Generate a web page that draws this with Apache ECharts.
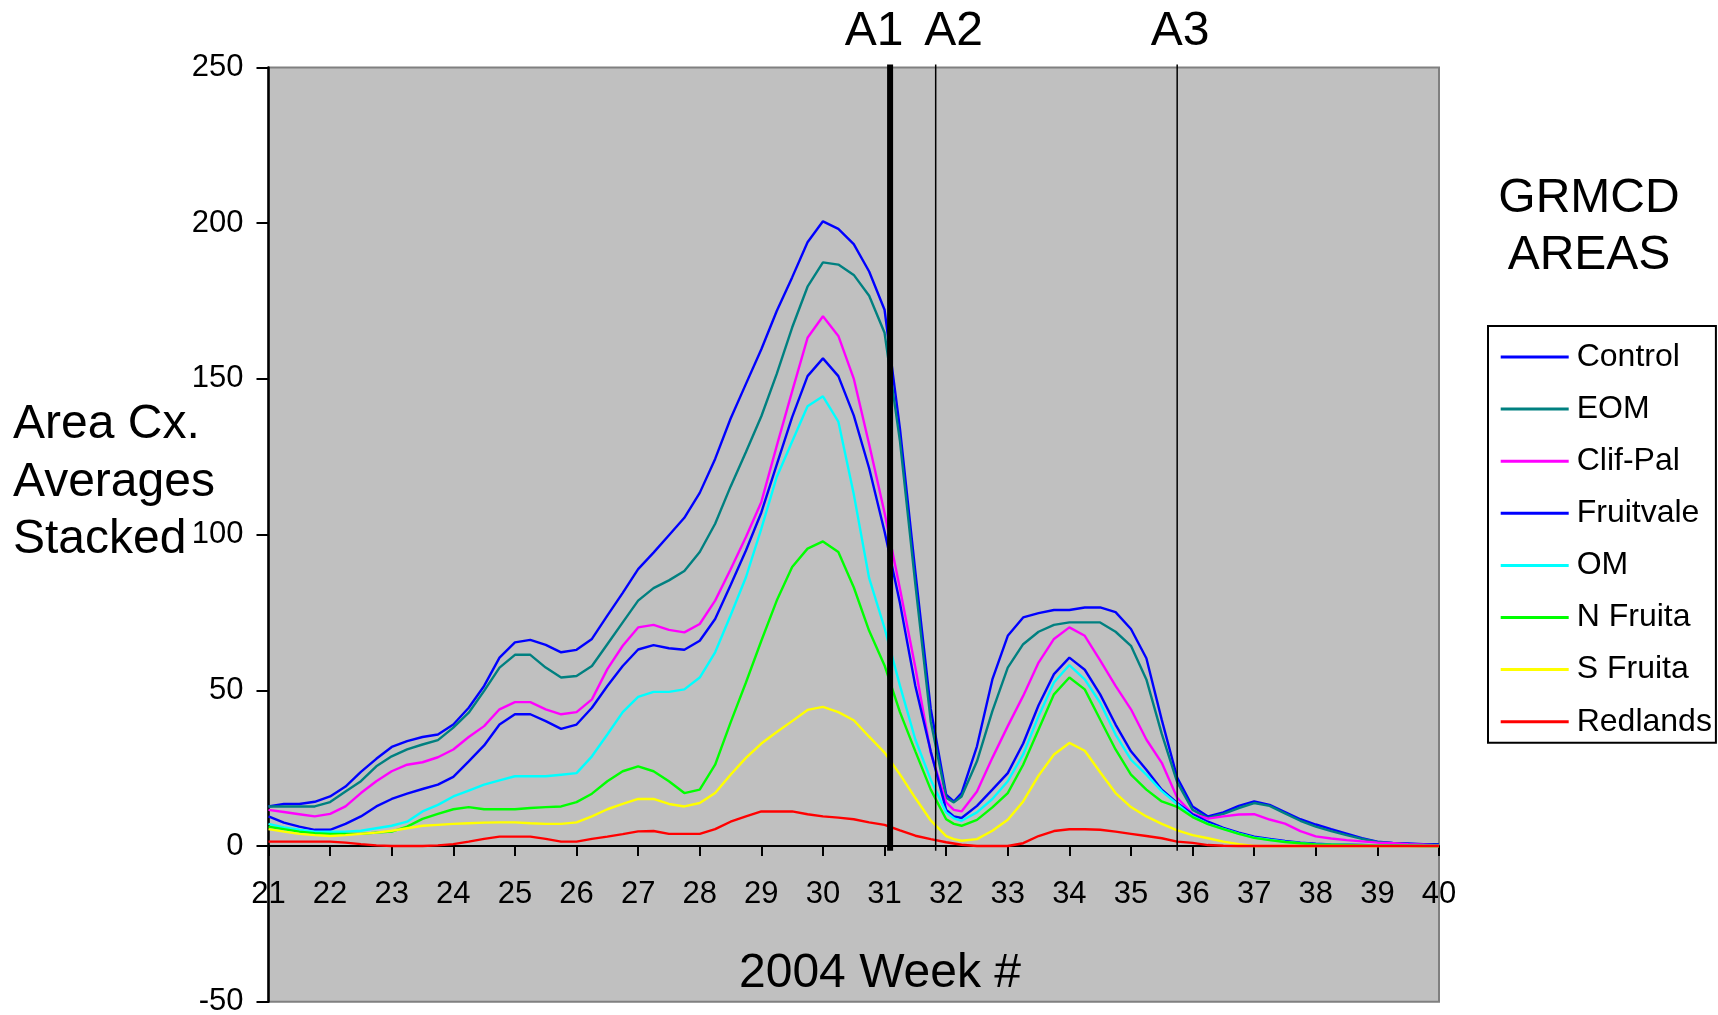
<!DOCTYPE html>
<html><head><meta charset="utf-8">
<script src="https://cdn.jsdelivr.net/npm/echarts@6/dist/echarts.min.js"></script>
<style>html,body{margin:0;padding:0;background:#fff}#chart{width:1718px;height:1015px}</style>
</head><body><div id="chart"></div>
<script>
// ---- DATA ----
const weeks = [21, 21.25, 21.5, 21.75, 22, 22.25, 22.5, 22.75, 23, 23.25, 23.5, 23.75, 24, 24.25, 24.5, 24.75, 25, 25.25, 25.5, 25.75, 26, 26.25, 26.5, 26.75, 27, 27.25, 27.5, 27.75, 28, 28.25, 28.5, 28.75, 29, 29.25, 29.5, 29.75, 30, 30.25, 30.5, 30.75, 31, 31.25, 31.5, 31.75, 32, 32.125, 32.25, 32.5, 32.75, 33, 33.25, 33.5, 33.75, 34, 34.25, 34.5, 34.75, 35, 35.25, 35.5, 35.75, 36, 36.25, 36.5, 36.75, 37, 37.25, 37.5, 37.75, 38, 38.25, 38.5, 38.75, 39, 39.25, 39.5, 39.75, 40];

const control = [12.7, 13.5, 13.5, 14.2, 15.9, 19.1, 23.8, 28, 31.8, 33.7, 35, 35.8, 39, 44.4, 51.4, 60.5, 65.4, 66.2, 64.6, 62.2, 63, 66.5, 74, 81.3, 88.9, 94.2,
  99.8, 105.4, 113.4, 124.3, 137.2, 148.4, 159.5, 171.8, 182.6, 193.9, 200.6, 198.2, 193.3, 184.5, 172.2, 134, 88, 44,
  16.5, 14.3,
  17, 32, 53.5, 67.5, 73.4, 74.8, 75.8, 75.8, 76.6, 76.6, 75.1, 69.7, 60.3, 40.5, 22,
  12.7, 9.5, 10.8, 12.9, 14.3, 13.2, 10.9, 8.6, 6.9, 5.4, 4, 2.5, 1.4, 1, 0.8, 0.6, 0.6];

const eom = [12.7, 12.7, 12.7, 12.7, 14.1, 17.5, 20.8, 25.6, 28.8, 31, 32.6, 34, 38, 42.8, 49.8, 57.3, 61.4, 61.4, 57.3, 54.1, 54.6, 57.8, 64.8, 71.8, 78.8, 82.8,
  85.3, 88.3, 94.4, 103.5, 115.4, 126.5, 138, 151.6, 166.5, 179.6, 187.4, 186.7, 183.4, 176.7, 164.8, 130, 84, 40,
  15.5, 14,
  15.9, 27.2, 43.3, 57.3, 64.8, 68.8, 71, 71.8, 71.8, 71.8, 68.8, 64.3, 53.5, 36, 20.5,
  11.6, 9, 10.3, 12.2, 13.8, 12.9, 10.5, 8.1, 6.2, 4.8, 3.5, 2.3, 1.3, 0.9, 0.6, 0.4, 0.3];

const clifPal = [11.6, 10.9, 10.2, 9.5, 10.3, 12.7, 17, 20.8, 24, 26.1, 26.9, 28.5, 31, 35, 38.5, 43.9, 46.2, 46.2, 43.9, 42.3, 43, 47.1, 56.8, 64.3, 70.2, 71,
  69.4, 68.6, 71.3, 78.8, 88.8, 99.2, 110.5, 128.5, 146, 163.2, 170.1, 163.8, 150.1, 129, 107, 82.6, 57.3, 29.9,
  14, 11.6,
  11.1, 17.5, 28.3, 38.5, 48.2, 58.9, 66.5, 70.2, 67.5, 59.6, 51.4, 43.9, 34.2, 26.7, 15.5,
  10.3, 8.8, 9.5, 10.1, 10.2, 8.5, 7.2, 4.8, 3.1, 2.4, 1.9, 1.5, 1.1, 0.9, 0.6, 0.4, 0.2];

const fruitvale = [9.5, 7.5, 6.2, 5.2, 5.2, 7.1, 9.5, 12.7, 15.1, 16.8, 18.3, 19.7, 22.2, 27.2, 32.3, 39, 42.3, 42.3, 40.1, 37.6, 39, 44.4, 51.4, 57.8, 63.1, 64.5,
  63.5, 63, 65.9, 72.9, 83.7, 94.9, 107.1, 122.5, 137.7, 150.9, 156.6, 150.9, 138.3, 121.3, 101, 78, 51.4, 30.4,
  11.6, 9.5,
  9, 12.9, 18.1, 23.4, 32.9, 45.2, 55.2, 60.5, 56.6, 48.7, 39, 30.4, 24.5, 18.1, 13.8,
  10.2, 7.8, 5.8, 4.3, 3, 2.3, 1.6, 1.1, 0.7, 0.5, 0.4, 0.3, 0.2, 0.2, 0.1, 0.1, 0.1];

const om = [7.1, 6, 5.2, 4.6, 4.6, 4.6, 4.9, 5.7, 6.5, 7.8, 11.1, 13.2, 15.9, 17.8, 19.7, 21.1, 22.4, 22.4, 22.4, 22.9, 23.4, 28.8, 35.8, 43, 47.9, 49.5,
  49.5, 50.3, 54.1, 62.2, 74, 86.3, 101.9, 118.5, 129.9, 141.2, 144.4, 136.3, 113, 86, 70, 51.5, 34.2, 21.3,
  10.8, 8.9,
  8.1, 10.8, 15.1, 20.8, 29.4, 41.7, 52.5, 58.1, 53.5, 46, 35.8, 27.7, 22.9, 17.6, 13.5,
  9.5, 7.1, 5.5, 4, 2.7, 2, 1.4, 0.9, 0.5, 0.4, 0.3, 0.2, 0.2, 0.1, 0.1, 0.1, 0];

const nFruita = [6.2, 5.4, 4.6, 4.1, 3.9, 3.9, 3.9, 4.3, 4.6, 6.2, 8.7, 10.3, 11.8, 12.5, 11.8, 11.8, 11.8, 12.2, 12.5, 12.7, 14.1, 16.8, 20.8, 24, 25.6, 24,
  20.8, 17, 18.1, 26.1, 39.6, 52.5, 65.9, 78.8, 89.6, 95.5, 97.8, 94.4, 83.1, 69.1, 58, 43, 30.4, 18.1,
  8.6, 7.1,
  6.5, 8.4, 12.4, 17, 26.1, 37.4, 48.7, 54.1, 50.3, 40.6, 31, 22.9, 18.1, 14.3, 12.6,
  9.3, 7, 5.4, 3.9, 2.6, 1.9, 1.3, 0.9, 0.5, 0.4, 0.3, 0.2, 0.1, 0.1, 0.1, 0, 0];

const sFruita = [5.4, 4.6, 3.9, 3.5, 3.2, 3.5, 3.9, 4.3, 4.9, 5.7, 6.5, 6.8, 7.1, 7.3, 7.5, 7.6, 7.6, 7.3, 7.1, 7.1, 7.6, 9.5, 11.8, 13.5, 15.1, 15.1,
  13.5, 12.7, 13.8, 17, 22.9, 28.3, 32.9, 36.6, 40.1, 43.7, 44.7, 43, 40.4, 35.1, 30, 23, 15.4, 8.2,
  3.2, 2.2,
  1.7, 2.2, 4.9, 8.4, 14.3, 22.6, 29.4, 33.1, 30.6, 23.7, 17, 12.5, 9.5, 7.1, 5,
  3.5, 2.5, 1.4, 0.6, 0, 0, 0, 0, 0, 0, 0, 0, 0, 0, 0, 0, 0];

const redlands = [1.4, 1.4, 1.4, 1.4, 1.4, 1.1, 0.6, 0.2, 0, 0, 0, 0.2, 0.6, 1.4, 2.3, 3, 3, 3, 2.3, 1.4, 1.4, 2.3, 3, 3.8, 4.7, 4.8,
  3.9, 3.9, 3.9, 5.4, 7.8, 9.5, 11.1, 11.1, 11.1, 10.2, 9.5, 9.1, 8.6, 7.6, 6.8, 5, 3.3, 2.2,
  1.2, 0.8,
  0.4, 0, 0, 0, 0.9, 3.2, 4.8, 5.4, 5.4, 5.2, 4.6, 3.9, 3.2, 2.5, 1.4,
  1, 0.3, 0.1, 0, 0, 0, 0, 0, 0, 0, 0, 0, 0, 0, 0, 0, 0];

const seriesNames = ['Control', 'EOM', 'Clif-Pal', 'Fruitvale', 'OM', 'N Fruita', 'S Fruita', 'Redlands'];
const markerWeeks = [31.09, 31.83, 35.75];
const markerNames = ['A1', 'A2', 'A3'];
const markerSpan = [-1.5, 251];      // vertical extent of marker lines (data units)
const yTicks = { min: -50, max: 250, step: 50 };
const xTicks = { min: 21, max: 40, step: 1 };

// ---- STYLE ----
const FONT = "'Liberation Sans', Arial, Helvetica, sans-serif";
const colors = ['#0000FF', '#008080', '#FF00FF', '#0000FF', '#00FFFF', '#00FF00', '#FFFF00', '#FF0000'];
const markerLineWidths = [6, 1.5, 1.5];
const markerLabelDx = [-16, 18, 3];

const valueSets = [control, eom, clifPal, fruitvale, om, nFruita, sFruita, redlands];

const chart = echarts.init(document.getElementById('chart'), null, { renderer: 'canvas' });

const GRID = { left: 268.5, right: 279, top: 67.5, bottom: 13.3 };

const dataSeries = seriesNames.map((n, i) => ({
  name: n,
  type: 'line',
  data: weeks.map((w, j) => [w, valueSets[i][j]]),
  symbol: 'none',
  smooth: false,
  lineStyle: { color: colors[i], width: 2.4 },
  itemStyle: { color: colors[i] },
  emphasis: { disabled: true },
  animation: false,
  z: 3
}));

const markerSeries = markerWeeks.map((w, i) => ({
  name: markerNames[i],
  type: 'line',
  data: [[w, markerSpan[0]], [w, markerSpan[1]]],
  symbol: 'none',
  clip: false,
  lineStyle: { color: '#000', width: markerLineWidths[i] },
  itemStyle: { color: '#000' },
  silent: true,
  animation: false,
  z: 4
}));

const option = {
  animation: false,
  backgroundColor: '#ffffff',
  grid: Object.assign({
    containLabel: false, outerBoundsMode: 'none',
    show: true, backgroundColor: '#C0C0C0', borderColor: '#808080', borderWidth: 2
  }, GRID),
  xAxis: {
    type: 'value', min: xTicks.min, max: xTicks.max, interval: xTicks.step,
    axisLine: { onZero: true, lineStyle: { color: '#000', width: 2 } },
    axisTick: { show: true, inside: false, length: 10, lineStyle: { color: '#000', width: 2 } },
    axisLabel: { color: '#000', fontSize: 31, fontFamily: FONT, margin: 33, showMinLabel: true, showMaxLabel: true },
    splitLine: { show: false }
  },
  yAxis: {
    type: 'value', min: yTicks.min, max: yTicks.max, interval: yTicks.step,
    axisLine: { show: true, onZero: false, lineStyle: { color: '#000', width: 2.5 } },
    axisTick: { show: true, inside: false, length: 12, lineStyle: { color: '#000', width: 2 } },
    axisLabel: { color: '#000', fontSize: 31, fontFamily: FONT, margin: 25 },
    splitLine: { show: false }
  },
  legend: {
    data: seriesNames,
    orient: 'vertical',
    left: 1488, top: 326,
    padding: [15, 4, 5, 12.7],
    itemGap: 20.1,
    itemWidth: 68, itemHeight: 3,
    icon: 'rect',
    backgroundColor: '#ffffff', borderColor: '#000', borderWidth: 2,
    selectedMode: false,
    textStyle: { fontSize: 32, lineHeight: 32, color: '#000', fontFamily: FONT, padding: [0, 0, 0, 3] }
  },
  series: dataSeries.concat(markerSeries)
};
chart.setOption(option);

// x-axis labels sit just under the zero line (the axis crosses at y = 0);
// shift them up from the grid's bottom edge to below the zero line.
const zeroY = chart.convertToPixel({ gridIndex: 0 }, [xTicks.min, 0])[1];
const bottomY = chart.convertToPixel({ gridIndex: 0 }, [xTicks.min, yTicks.min])[1];
const labelGap = 33;
chart.setOption({ xAxis: { axisLabel: { margin: (zeroY - bottomY) + labelGap } } });

// ---- TEXT ANNOTATIONS ----
const graphics = [
  { type: 'text', x: 13, y: 482.5, style: { text: 'Area Cx.\nAverages\nStacked', fontSize: 48, fontFamily: FONT, fill: '#000', textAlign: 'left', textVerticalAlign: 'middle', align: 'left', verticalAlign: 'middle', lineHeight: 57.5 } },
  { type: 'text', x: 880, y: 973.5, style: { text: '2004 Week #', fontSize: 48, fontFamily: FONT, fill: '#000', textAlign: 'center', textVerticalAlign: 'middle', align: 'center', verticalAlign: 'middle' } },
  { type: 'text', x: 1589, y: 227, style: { text: 'GRMCD\nAREAS', fontSize: 48, fontFamily: FONT, fill: '#000', textAlign: 'center', textVerticalAlign: 'middle', align: 'center', verticalAlign: 'middle', lineHeight: 57 } }
];
markerWeeks.forEach((w, i) => {
  const p = chart.convertToPixel({ gridIndex: 0 }, [w, markerSpan[1]]);
  graphics.push({ type: 'text', x: p[0] + markerLabelDx[i], y: 32, style: { text: markerNames[i], fontSize: 48, fontFamily: FONT, fill: '#000', textAlign: 'center', textVerticalAlign: 'middle', align: 'center', verticalAlign: 'middle' } });
});
chart.setOption({ graphic: graphics });
</script>
</body></html>
